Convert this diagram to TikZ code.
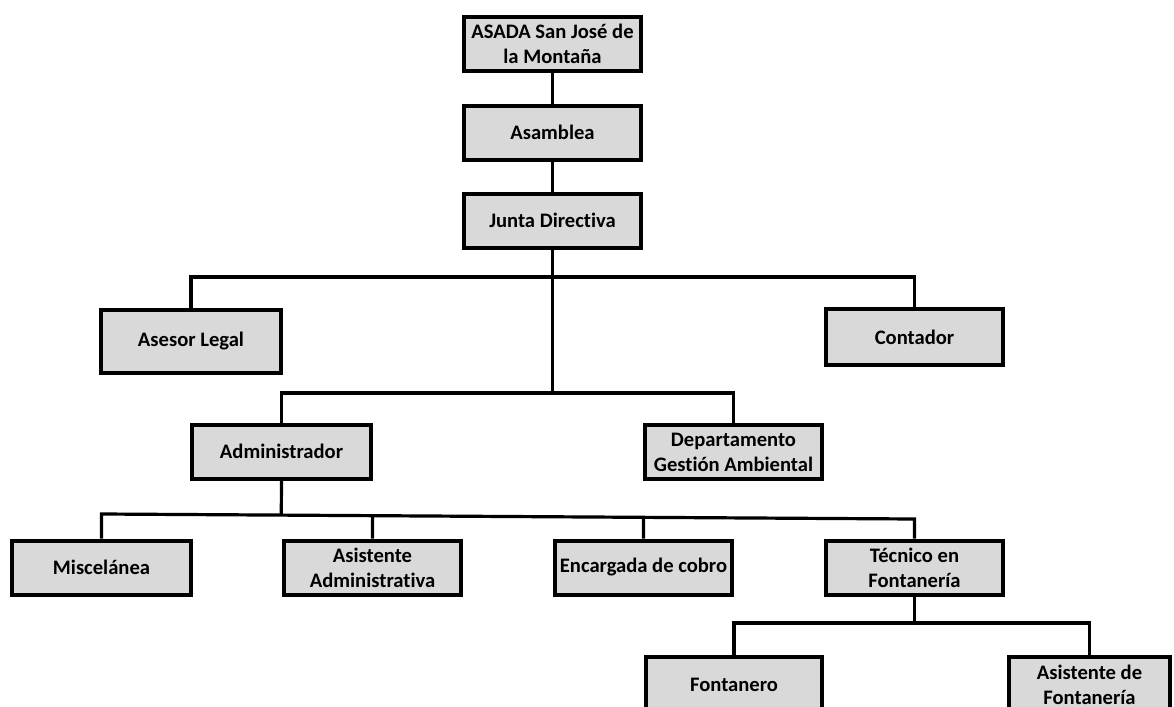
\documentclass[tikz,border=0pt]{standalone}
\usepackage{fontspec}
\setmainfont[Ligatures=NoCommon]{Carlito}
\usetikzlibrary{calc}
\definecolor{boxgray}{HTML}{D9D9D9}
\tikzset{box/.style={rectangle,draw,line width=2pt,fill=boxgray,align=center,inner sep=2pt,font=\fontsize{10.3}{12.5}\selectfont\bfseries,minimum width=88.5pt,minimum height=27pt},line/.style={line width=1.6pt}}

\begin{document}
\begin{tikzpicture}[x=0.5pt,y=-0.5pt]
\clip (0,0) rectangle (1174,707);
% top of the chart
\node[box] (asada) at (552.5,44) {ASADA San José de\\la Montaña};
\node[box] (asamblea) at (552.5,132.5) {Asamblea};
\node[box] (junta) at (552.5,220.5) {Junta Directiva};
\node[box, minimum width=90pt, minimum height=31.5pt] (asesor) at (191,341.5) {Asesor Legal};
\node[box, minimum height=28pt] (contador) at (914.5,337) {Contador};
\node[box, minimum width=89.5pt] (admin) at (281.5,451.5) {Administrador};
\node[box] (depto) at (733.5,452) {Departamento\\Gestión Ambiental};
% staff
\node[box, minimum width=89.5pt] (misc) at (101.5,567.5) {Miscelánea};
\node[box] (asistadm) at (372.5,567.5) {Asistente\\Administrativa};
\node[box] (cobro) at (643.5,567.5) {Encargada de cobro};
\node[box] (tecnico) at (914.5,567.5) {Técnico en\\Fontanería};
\node[box, minimum width=88pt, minimum height=28pt] (fontanero) at (734,685) {Fontanero};
\node[box, minimum width=80.5pt, minimum height=28pt] (asistfont) at (1089.5,685) {Asistente de\\Fontanería};
% bus lines
\coordinate (b1) at (552.5,277);
\coordinate (b2) at (552.5,393);
\coordinate (b3l) at (101.5,514);
\coordinate (b3r) at (914.5,519);
\coordinate (b4) at (914.5,623);
\draw[line] (asada) -- (asamblea);
\draw[line] (asamblea) -- (junta);
\draw[line] (junta.south) -- (b2);
\draw[line] (asesor.north) |- (b1) -| (contador.north);
\draw[line] (admin.north) |- (b2) -| (depto.north);
\draw[line] (misc.north) -- (b3l) -- (b3r) -- (tecnico.north);
\draw[line] (admin.south) -- ($(b3l)!(admin.south)!(b3r)$);
\draw[line] (asistadm.north) -- ($(b3l)!(asistadm.north)!(b3r)$);
\draw[line] (cobro.north) -- ($(b3l)!(cobro.north)!(b3r)$);
\draw[line] (tecnico.south) -- (b4);
\draw[line] (fontanero.north) |- (b4) -| (asistfont.north);
\end{tikzpicture}
\end{document}
